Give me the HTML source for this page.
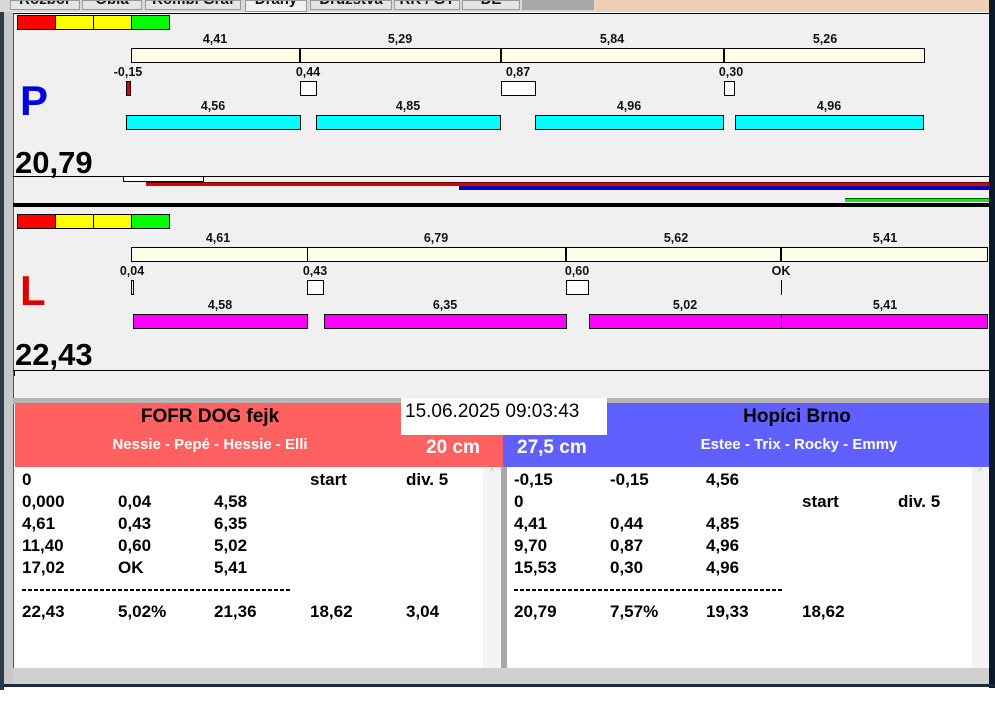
<!DOCTYPE html>
<html><head><meta charset="utf-8"><style>
body{margin:0;width:995px;height:716px;background:#fff;position:relative;overflow:hidden;font-family:"Liberation Sans",sans-serif}
div{position:absolute;box-sizing:border-box}
.b{border:1px solid #000}
.t{font-weight:bold;font-size:12.5px;color:#111;transform:translateX(-50%);white-space:nowrap}
.r{font-weight:bold;font-size:17px;color:#000;white-space:nowrap}
.tab{background:#e4e4e4;border:1px solid #999;overflow:hidden;height:10px;top:0}
.tab span{position:absolute;left:0;right:0;top:-10px;text-align:center;font-size:15px;font-weight:bold;color:#111}
.dash{height:2px;background:repeating-linear-gradient(90deg,#000 0 4px,transparent 4px 6px)}
</style></head><body>
<div style="left:0;top:0;width:4px;height:690px;background:#2a3a4a"></div>
<div style="left:4px;top:0;width:9px;height:686px;background:#c8c8c8"></div>
<div style="left:0;top:0;width:990px;height:12px;background:#d8d8d8"></div>
<div class="tab" style="left:10px;width:70px"><span>Rozbor</span></div>
<div class="tab" style="left:82px;width:60px"><span>Obla</span></div>
<div class="tab" style="left:145px;width:96px"><span>Kombi Graf</span></div>
<div class="tab" style="left:245px;width:62px;height:12px;background:#f0f0f0"><span>Dráhy</span></div>
<div class="tab" style="left:310px;width:82px"><span>Družstva</span></div>
<div class="tab" style="left:394px;width:66px"><span>RK / GT</span></div>
<div class="tab" style="left:462px;width:58px"><span>DE</span></div>
<div style="left:522px;top:0;width:72px;height:10px;background:#a8a8a8"></div>
<div style="left:596px;top:0;width:393px;height:12px;background:#f0d0b4"></div>
<div style="left:989px;top:0;width:6px;height:688px;background:#0a1a2a"></div>
<div style="left:13px;top:13px;width:976px;height:672px;background:#f0f0f0;border-top:1px solid #000;border-left:1px solid #555"></div>

<!-- panel 1 -->
<div style="left:17px;top:15px;width:153px;height:15px;border:1px solid #000;background:linear-gradient(90deg,#f00 0 25%,#ff0 25% 50%,#ff0 50% 75%,#0f0 75%)"></div>
<div style="left:55px;top:15px;width:1px;height:15px;background:#000"></div><div style="left:93px;top:15px;width:1px;height:15px;background:#000"></div><div style="left:131px;top:15px;width:1px;height:15px;background:#000"></div>
<div class="t" style="left:215px;top:32px">4,41</div><div class="t" style="left:400px;top:32px">5,29</div><div class="t" style="left:612px;top:32px">5,84</div><div class="t" style="left:825px;top:32px">5,26</div>
<div class="b" style="left:131px;top:48px;width:794px;height:15px;background:#fffde8"></div>
<div style="left:299px;top:48px;width:2px;height:15px;background:#000"></div><div style="left:500px;top:48px;width:2px;height:15px;background:#000"></div><div style="left:723px;top:48px;width:2px;height:15px;background:#000"></div>
<div class="t" style="left:128px;top:65px">-0,15</div><div class="t" style="left:308px;top:65px">0,44</div><div class="t" style="left:518px;top:65px">0,87</div><div class="t" style="left:731px;top:65px">0,30</div>
<div class="b" style="left:126px;top:81px;width:5px;height:15px;background:#d00"></div>
<div class="b" style="left:300px;top:81px;width:17px;height:15px;background:#fff"></div>
<div class="b" style="left:501px;top:81px;width:35px;height:15px;background:#fff"></div>
<div class="b" style="left:724px;top:81px;width:11px;height:15px;background:#fff"></div>
<div class="t" style="left:213px;top:99px">4,56</div><div class="t" style="left:408px;top:99px">4,85</div><div class="t" style="left:629px;top:99px">4,96</div><div class="t" style="left:829px;top:99px">4,96</div>
<div class="b" style="left:126px;top:115px;width:175px;height:15px;background:#0ff"></div>
<div class="b" style="left:316px;top:115px;width:185px;height:15px;background:#0ff"></div>
<div class="b" style="left:535px;top:115px;width:189px;height:15px;background:#0ff"></div>
<div class="b" style="left:735px;top:115px;width:189px;height:15px;background:#0ff"></div>
<div style="left:20px;top:77px;font-size:42px;font-weight:bold;color:#0000e0">P</div>
<div style="left:15px;top:145px;font-size:31px;font-weight:bold;color:#000">20,79</div>
<div style="left:13px;top:176px;width:976px;height:1px;background:#000"></div>
<div class="b" style="left:123px;top:176px;width:81px;height:6px;background:#fff"></div>
<div style="left:146px;top:182px;width:843px;height:4px;background:#d00;border-top:1px solid #600"></div>
<div style="left:459px;top:186px;width:530px;height:4px;background:#0000c0"></div>
<div style="left:845px;top:198px;width:144px;height:4px;background:#2d2;border-top:1px solid #060"></div>
<div style="left:13px;top:203px;width:976px;height:4px;background:#000"></div>

<!-- panel 2 -->
<div style="left:17px;top:214px;width:153px;height:15px;border:1px solid #000;background:linear-gradient(90deg,#f00 0 25%,#ff0 25% 50%,#ff0 50% 75%,#0f0 75%)"></div>
<div style="left:55px;top:214px;width:1px;height:15px;background:#000"></div><div style="left:93px;top:214px;width:1px;height:15px;background:#000"></div><div style="left:131px;top:214px;width:1px;height:15px;background:#000"></div>
<div class="t" style="left:218px;top:231px">4,61</div><div class="t" style="left:436px;top:231px">6,79</div><div class="t" style="left:676px;top:231px">5,62</div><div class="t" style="left:885px;top:231px">5,41</div>
<div class="b" style="left:131px;top:247px;width:857px;height:15px;background:#fffde8"></div>
<div style="left:307px;top:247px;width:1px;height:15px;background:#000"></div><div style="left:565px;top:247px;width:2px;height:15px;background:#000"></div><div style="left:780px;top:247px;width:2px;height:15px;background:#000"></div>
<div class="t" style="left:132px;top:264px">0,04</div><div class="t" style="left:315px;top:264px">0,43</div><div class="t" style="left:577px;top:264px">0,60</div><div class="t" style="left:781px;top:264px">OK</div>
<div class="b" style="left:131px;top:280px;width:3px;height:15px;background:#fff"></div>
<div class="b" style="left:307px;top:280px;width:17px;height:15px;background:#fff"></div>
<div class="b" style="left:566px;top:280px;width:23px;height:15px;background:#fff"></div>
<div style="left:781px;top:280px;width:1px;height:15px;background:#000"></div>
<div class="t" style="left:220px;top:298px">4,58</div><div class="t" style="left:445px;top:298px">6,35</div><div class="t" style="left:685px;top:298px">5,02</div><div class="t" style="left:885px;top:298px">5,41</div>
<div class="b" style="left:133px;top:314px;width:175px;height:15px;background:#f0f"></div>
<div class="b" style="left:324px;top:314px;width:243px;height:15px;background:#f0f"></div>
<div class="b" style="left:589px;top:314px;width:399px;height:15px;background:#f0f"></div>
<div style="left:781px;top:314px;width:1px;height:15px;background:#000"></div>
<div style="left:20px;top:267px;font-size:42px;font-weight:bold;color:#e00000">L</div>
<div style="left:15px;top:337px;font-size:31px;font-weight:bold;color:#000">22,43</div>
<div style="left:13px;top:370px;width:976px;height:1px;background:#000"></div>
<div style="left:14px;top:370px;width:1px;height:6px;background:#000"></div>
<div style="left:13px;top:398px;width:976px;height:6px;background:#b4b4b4"></div>

<!-- bottom -->
<div style="left:15px;top:403px;width:488px;height:64px;background:#ff6060"></div>
<div style="left:503px;top:403px;width:486px;height:64px;background:#6060ff"></div>
<div style="left:401px;top:398px;width:206px;height:37px;background:#fff"></div>
<div style="left:405px;top:401px;font-size:19px;color:#000">15.06.2025 09:03:43</div>
<div style="left:210px;top:406px;font-size:19px;font-weight:bold;transform:translateX(-50%)">FOFR DOG fejk</div>
<div style="left:210px;top:436px;font-size:15px;font-weight:bold;color:#fff;transform:translateX(-50%);white-space:nowrap">Nessie - Pepé - Hessie - Elli</div>
<div style="left:426px;top:437px;font-size:19px;font-weight:bold;color:#fff">20 cm</div>
<div style="left:517px;top:437px;font-size:19px;font-weight:bold;color:#fff">27,5 cm</div>
<div style="left:797px;top:406px;font-size:19px;font-weight:bold;transform:translateX(-50%);white-space:nowrap">Hopíci Brno</div>
<div style="left:799px;top:436px;font-size:15px;font-weight:bold;color:#fff;transform:translateX(-50%);white-space:nowrap">Estee - Trix - Rocky - Emmy</div>
<div style="left:15px;top:467px;width:486px;height:201px;background:#fff"></div>
<div style="left:483px;top:467px;width:18px;height:201px;background:#f4f4f4;color:#bbb;font-size:10px;text-align:center">^</div>
<div style="left:501px;top:467px;width:6px;height:201px;background:#a8a8a8"></div>
<div style="left:507px;top:467px;width:482px;height:201px;background:#fff"></div>
<div style="left:972px;top:467px;width:17px;height:201px;background:#f4f4f4;color:#bbb;font-size:10px;text-align:center">^</div>
<div style="left:13px;top:668px;width:976px;height:16px;background:#d0d0d0"></div>
<div style="left:4px;top:684px;width:991px;height:3px;background:#1a2a3a"></div>

<div class="r" style="left:22px;top:470px">0</div><div class="r" style="left:310px;top:470px">start</div><div class="r" style="left:406px;top:470px">div. 5</div>
<div class="r" style="left:22px;top:492px">0,000</div><div class="r" style="left:118px;top:492px">0,04</div><div class="r" style="left:214px;top:492px">4,58</div>
<div class="r" style="left:22px;top:514px">4,61</div><div class="r" style="left:118px;top:514px">0,43</div><div class="r" style="left:214px;top:514px">6,35</div>
<div class="r" style="left:22px;top:536px">11,40</div><div class="r" style="left:118px;top:536px">0,60</div><div class="r" style="left:214px;top:536px">5,02</div>
<div class="r" style="left:22px;top:558px">17,02</div><div class="r" style="left:118px;top:558px">OK</div><div class="r" style="left:214px;top:558px">5,41</div>
<div class="dash" style="left:22px;top:589px;width:270px"></div>
<div class="r" style="left:22px;top:602px">22,43</div><div class="r" style="left:118px;top:602px">5,02%</div><div class="r" style="left:214px;top:602px">21,36</div><div class="r" style="left:310px;top:602px">18,62</div><div class="r" style="left:406px;top:602px">3,04</div>

<div class="r" style="left:514px;top:470px">-0,15</div><div class="r" style="left:610px;top:470px">-0,15</div><div class="r" style="left:706px;top:470px">4,56</div>
<div class="r" style="left:514px;top:492px">0</div><div class="r" style="left:802px;top:492px">start</div><div class="r" style="left:898px;top:492px">div. 5</div>
<div class="r" style="left:514px;top:514px">4,41</div><div class="r" style="left:610px;top:514px">0,44</div><div class="r" style="left:706px;top:514px">4,85</div>
<div class="r" style="left:514px;top:536px">9,70</div><div class="r" style="left:610px;top:536px">0,87</div><div class="r" style="left:706px;top:536px">4,96</div>
<div class="r" style="left:514px;top:558px">15,53</div><div class="r" style="left:610px;top:558px">0,30</div><div class="r" style="left:706px;top:558px">4,96</div>
<div class="dash" style="left:514px;top:589px;width:270px"></div>
<div class="r" style="left:514px;top:602px">20,79</div><div class="r" style="left:610px;top:602px">7,57%</div><div class="r" style="left:706px;top:602px">19,33</div><div class="r" style="left:802px;top:602px">18,62</div>
</body></html>
